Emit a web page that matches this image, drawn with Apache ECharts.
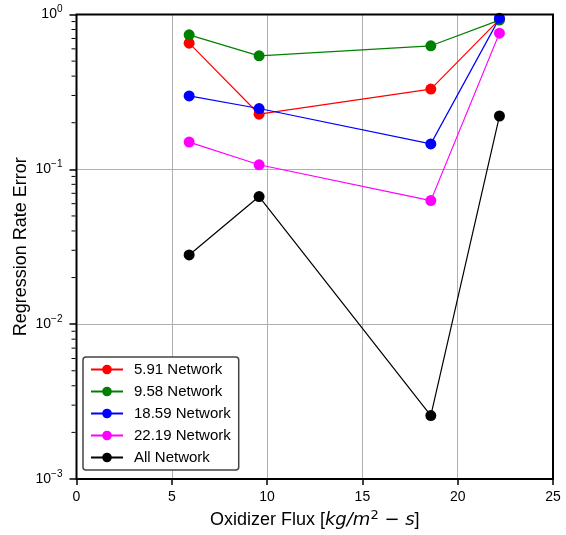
<!DOCTYPE html>
<html><head><meta charset="utf-8">
<script src="https://cdn.jsdelivr.net/npm/echarts@6/dist/echarts.min.js"></script>
<style>html,body{margin:0;padding:0;background:#fff}#c{width:566px;height:535px}</style>
</head><body><div id="c"></div>
<script>
const flux = [5.91, 9.58, 18.59, 22.19];
const net591 = [0.653, 0.227, 0.330, 0.93];
const net958 = [0.739, 0.541, 0.628, 0.92];
const net1859 = [0.298, 0.247, 0.146, 0.947];
const net2219 = [0.150, 0.107, 0.0628, 0.758];
const netAll = [0.0280, 0.0667, 0.00257, 0.221];
const seriesNames = ['5.91 Network', '9.58 Network', '18.59 Network', '22.19 Network', 'All Network'];
const seriesColors = ['#ff0000', '#008000', '#0000ff', '#ff00ff', '#000000'];
const minorTickValues = [];
[0.001, 0.01, 0.1].forEach(b => { for (let k = 2; k <= 9; k++) minorTickValues.push(b * k); });

const allData = [net591, net958, net1859, net2219, netAll];
const font = 'Liberation Sans, Arial, sans-serif';
const mathFont = 'DejaVu Sans, sans-serif';
const chart = echarts.init(document.getElementById('c'), null, {renderer: 'canvas'});
const series = allData.map((vals, i) => ({
  name: seriesNames[i], type: 'line', data: flux.map((x, j) => [x, vals[j]]),
  symbol: 'circle', symbolSize: 11, showSymbol: true,
  lineStyle: {color: seriesColors[i], width: 1.2}, itemStyle: {color: seriesColors[i]},
  emphasis: {disabled: true}, z: 3 + i, animation: false
}));
series.push({
  type: 'custom', name: 'minorTicks', silent: true, clip: false, animation: false,
  data: minorTickValues.map(v => [0, v]),
  renderItem: (params, api) => {
    const p = api.coord([0, api.value(1)]);
    return {type: 'line', shape: {x1: p[0] - 1, y1: p[1], x2: p[0] - 5, y2: p[1]},
      style: {stroke: '#000', lineWidth: 1}};
  }, z: 10
});
chart.setOption({
  animation: false,
  grid: {left: 76.5, right: 13, top: 14.5, bottom: 56, show: true, borderColor: '#000', borderWidth: 2, backgroundColor: 'transparent', z: 20},
  legend: {
    data: seriesNames, orient: 'vertical', left: 83, top: 357,
    backgroundColor: '#fff', borderColor: '#444', borderWidth: 1.5, borderRadius: 3,
    padding: [5, 8, 5, 7], itemGap: 7, itemWidth: 32, itemHeight: 12,
    textStyle: {fontFamily: font, fontSize: 15, color: '#000', padding: [0, 0, 0, 6]}, z: 30
  },
  xAxis: {
    type: 'value', min: 0, max: 25, interval: 5,
    name: 'Oxidizer Flux [{i|kg/m}{s|2}{i| − s}]', nameLocation: 'middle', nameGap: 30, nameMoveOverlap: false,
    nameTextStyle: {fontFamily: font, fontSize: 18, color: '#000',
      rich: {i: {fontFamily: mathFont, fontStyle: 'italic', fontSize: 18, color: '#000'},
             s: {fontFamily: mathFont, fontSize: 13, color: '#000', padding: [0, 0, 10, 0]}}},
    axisLine: {show: false}, axisTick: {show: true, length: 6, inside: false, lineStyle: {color: '#000', width: 1.5}},
    axisLabel: {fontFamily: font, fontSize: 14, color: '#000', margin: 11},
    splitLine: {show: true, lineStyle: {color: '#b0b0b0', width: 1}}
  },
  yAxis: {
    type: 'log', logBase: 10, min: 0.001, max: 1,
    name: 'Regression Rate Error', nameLocation: 'middle', nameGap: 46, nameRotate: 90, nameMoveOverlap: false,
    nameTextStyle: {fontFamily: font, fontSize: 18, color: '#000'},
    axisLine: {show: false}, axisTick: {show: true, length: 7, lineStyle: {color: '#000', width: 1.5}},
    axisLabel: {fontFamily: font, fontSize: 14, color: '#000', margin: 14,
      formatter: v => '10{s|' + String(Math.round(Math.log10(v))).replace('-', '−') + '}',
      rich: {s: {fontFamily: font, fontSize: 10, color: '#000', padding: [0, 0, 10, 0]}}},
    splitLine: {show: true, lineStyle: {color: '#b0b0b0', width: 1}}
  },
  series: series
});
</script></body></html>
